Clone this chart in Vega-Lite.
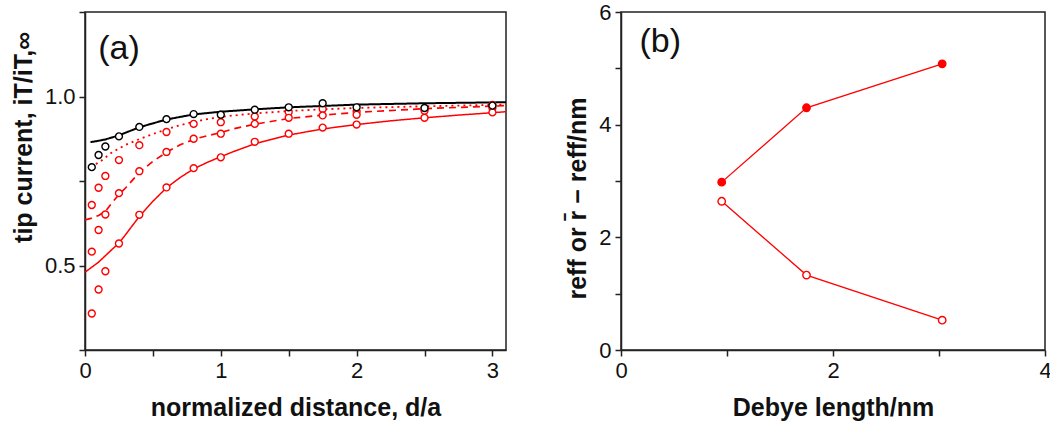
{
  "$schema": "https://vega.github.io/schema/vega-lite/v6.json",
  "autosize": {"type": "pad"},
  "padding": {"left": 10, "top": 0, "right": 0, "bottom": 0},
  "background": "white",
  "bounds": "flush",
  "spacing": 115,
  "datasets": {
    "curves": [
      {"x": 0.04, "y": 0.865, "series": "black solid"},
      {"x": 0.1, "y": 0.869, "series": "black solid"},
      {"x": 0.15, "y": 0.873, "series": "black solid"},
      {"x": 0.25, "y": 0.885, "series": "black solid"},
      {"x": 0.4, "y": 0.909, "series": "black solid"},
      {"x": 0.6, "y": 0.932, "series": "black solid"},
      {"x": 0.8, "y": 0.947, "series": "black solid"},
      {"x": 1.0, "y": 0.955, "series": "black solid"},
      {"x": 1.25, "y": 0.962, "series": "black solid"},
      {"x": 1.5, "y": 0.968, "series": "black solid"},
      {"x": 1.75, "y": 0.972, "series": "black solid"},
      {"x": 2.0, "y": 0.976, "series": "black solid"},
      {"x": 2.5, "y": 0.98, "series": "black solid"},
      {"x": 3.1, "y": 0.983, "series": "black solid"},
      {"x": 0.08, "y": 0.8, "series": "red dotted"},
      {"x": 0.12, "y": 0.81, "series": "red dotted"},
      {"x": 0.2, "y": 0.835, "series": "red dotted"},
      {"x": 0.3, "y": 0.857, "series": "red dotted"},
      {"x": 0.4, "y": 0.874, "series": "red dotted"},
      {"x": 0.5, "y": 0.889, "series": "red dotted"},
      {"x": 0.6, "y": 0.903, "series": "red dotted"},
      {"x": 0.7, "y": 0.915, "series": "red dotted"},
      {"x": 0.8, "y": 0.925, "series": "red dotted"},
      {"x": 0.9, "y": 0.933, "series": "red dotted"},
      {"x": 1.0, "y": 0.94, "series": "red dotted"},
      {"x": 1.25, "y": 0.95, "series": "red dotted"},
      {"x": 1.5, "y": 0.957, "series": "red dotted"},
      {"x": 1.75, "y": 0.962, "series": "red dotted"},
      {"x": 2.0, "y": 0.966, "series": "red dotted"},
      {"x": 2.5, "y": 0.971, "series": "red dotted"},
      {"x": 3.1, "y": 0.976, "series": "red dotted"},
      {"x": 0.0, "y": 0.635, "series": "red dashed"},
      {"x": 0.05, "y": 0.64, "series": "red dashed"},
      {"x": 0.1, "y": 0.648, "series": "red dashed"},
      {"x": 0.15, "y": 0.66, "series": "red dashed"},
      {"x": 0.2, "y": 0.686, "series": "red dashed"},
      {"x": 0.25, "y": 0.71, "series": "red dashed"},
      {"x": 0.3, "y": 0.73, "series": "red dashed"},
      {"x": 0.4, "y": 0.775, "series": "red dashed"},
      {"x": 0.5, "y": 0.808, "series": "red dashed"},
      {"x": 0.6, "y": 0.835, "series": "red dashed"},
      {"x": 0.7, "y": 0.857, "series": "red dashed"},
      {"x": 0.8, "y": 0.873, "series": "red dashed"},
      {"x": 0.9, "y": 0.884, "series": "red dashed"},
      {"x": 1.0, "y": 0.893, "series": "red dashed"},
      {"x": 1.1, "y": 0.905, "series": "red dashed"},
      {"x": 1.25, "y": 0.918, "series": "red dashed"},
      {"x": 1.5, "y": 0.935, "series": "red dashed"},
      {"x": 1.75, "y": 0.945, "series": "red dashed"},
      {"x": 2.0, "y": 0.953, "series": "red dashed"},
      {"x": 2.5, "y": 0.964, "series": "red dashed"},
      {"x": 3.1, "y": 0.973, "series": "red dashed"},
      {"x": 0.0, "y": 0.48, "series": "red solid"},
      {"x": 0.05, "y": 0.495, "series": "red solid"},
      {"x": 0.1, "y": 0.51, "series": "red solid"},
      {"x": 0.15, "y": 0.529, "series": "red solid"},
      {"x": 0.2, "y": 0.548, "series": "red solid"},
      {"x": 0.25, "y": 0.566, "series": "red solid"},
      {"x": 0.3, "y": 0.592, "series": "red solid"},
      {"x": 0.4, "y": 0.645, "series": "red solid"},
      {"x": 0.5, "y": 0.69, "series": "red solid"},
      {"x": 0.6, "y": 0.73, "series": "red solid"},
      {"x": 0.7, "y": 0.76, "series": "red solid"},
      {"x": 0.8, "y": 0.786, "series": "red solid"},
      {"x": 0.9, "y": 0.805, "series": "red solid"},
      {"x": 1.0, "y": 0.822, "series": "red solid"},
      {"x": 1.1, "y": 0.838, "series": "red solid"},
      {"x": 1.25, "y": 0.86, "series": "red solid"},
      {"x": 1.5, "y": 0.886, "series": "red solid"},
      {"x": 1.75, "y": 0.904, "series": "red solid"},
      {"x": 2.0, "y": 0.917, "series": "red solid"},
      {"x": 2.25, "y": 0.928, "series": "red solid"},
      {"x": 2.5, "y": 0.937, "series": "red solid"},
      {"x": 2.75, "y": 0.945, "series": "red solid"},
      {"x": 3.0, "y": 0.952, "series": "red solid"},
      {"x": 3.1, "y": 0.955, "series": "red solid"}
    ],
    "points": [
      {"x": 0.05, "y": 0.679, "series": "red 1"},
      {"x": 0.1, "y": 0.73, "series": "red 1"},
      {"x": 0.15, "y": 0.765, "series": "red 1"},
      {"x": 0.25, "y": 0.812, "series": "red 1"},
      {"x": 0.4, "y": 0.856, "series": "red 1"},
      {"x": 0.6, "y": 0.895, "series": "red 1"},
      {"x": 0.8, "y": 0.919, "series": "red 1"},
      {"x": 1.0, "y": 0.924, "series": "red 1"},
      {"x": 1.25, "y": 0.941, "series": "red 1"},
      {"x": 1.5, "y": 0.954, "series": "red 1"},
      {"x": 1.75, "y": 0.963, "series": "red 1"},
      {"x": 2.0, "y": 0.956, "series": "red 1"},
      {"x": 2.5, "y": 0.963, "series": "red 1"},
      {"x": 3.0, "y": 0.975, "series": "red 1"},
      {"x": 0.05, "y": 0.541, "series": "red 2"},
      {"x": 0.1, "y": 0.605, "series": "red 2"},
      {"x": 0.15, "y": 0.651, "series": "red 2"},
      {"x": 0.25, "y": 0.714, "series": "red 2"},
      {"x": 0.4, "y": 0.779, "series": "red 2"},
      {"x": 0.6, "y": 0.836, "series": "red 2"},
      {"x": 0.8, "y": 0.875, "series": "red 2"},
      {"x": 1.0, "y": 0.89, "series": "red 2"},
      {"x": 1.25, "y": 0.919, "series": "red 2"},
      {"x": 1.5, "y": 0.937, "series": "red 2"},
      {"x": 1.75, "y": 0.944, "series": "red 2"},
      {"x": 2.0, "y": 0.946, "series": "red 2"},
      {"x": 2.5, "y": 0.958, "series": "red 2"},
      {"x": 3.0, "y": 0.966, "series": "red 2"},
      {"x": 0.05, "y": 0.358, "series": "red 3"},
      {"x": 0.1, "y": 0.429, "series": "red 3"},
      {"x": 0.15, "y": 0.483, "series": "red 3"},
      {"x": 0.25, "y": 0.565, "series": "red 3"},
      {"x": 0.4, "y": 0.65, "series": "red 3"},
      {"x": 0.6, "y": 0.731, "series": "red 3"},
      {"x": 0.8, "y": 0.788, "series": "red 3"},
      {"x": 1.0, "y": 0.82, "series": "red 3"},
      {"x": 1.25, "y": 0.866, "series": "red 3"},
      {"x": 1.5, "y": 0.89, "series": "red 3"},
      {"x": 1.75, "y": 0.908, "series": "red 3"},
      {"x": 2.0, "y": 0.917, "series": "red 3"},
      {"x": 2.5, "y": 0.937, "series": "red 3"},
      {"x": 3.0, "y": 0.953, "series": "red 3"},
      {"x": 0.05, "y": 0.791, "series": "black"},
      {"x": 0.1, "y": 0.827, "series": "black"},
      {"x": 0.15, "y": 0.852, "series": "black"},
      {"x": 0.25, "y": 0.882, "series": "black"},
      {"x": 0.4, "y": 0.91, "series": "black"},
      {"x": 0.6, "y": 0.933, "series": "black"},
      {"x": 0.8, "y": 0.948, "series": "black"},
      {"x": 1.0, "y": 0.946, "series": "black"},
      {"x": 1.25, "y": 0.961, "series": "black"},
      {"x": 1.5, "y": 0.968, "series": "black"},
      {"x": 1.75, "y": 0.98, "series": "black"},
      {"x": 2.0, "y": 0.968, "series": "black"},
      {"x": 2.5, "y": 0.966, "series": "black"},
      {"x": 3.0, "y": 0.973, "series": "black"}
    ],
    "debye": [
      {"debye": 0.95, "r": 2.98, "quantity": "r_eff"},
      {"debye": 1.75, "r": 4.3, "quantity": "r_eff"},
      {"debye": 3.03, "r": 5.08, "quantity": "r_eff"},
      {"debye": 0.95, "r": 2.64, "quantity": "rbar_minus_r_eff"},
      {"debye": 1.75, "r": 1.33, "quantity": "rbar_minus_r_eff"},
      {"debye": 3.03, "r": 0.53, "quantity": "rbar_minus_r_eff"}
    ],
    "labels": [
      {"panel": "a", "lx": 0.25, "ly": 1.14, "text": "(a)"},
      {"panel": "b", "lx": 0.37, "ly": 5.46, "text": "(b)"}
    ]
  },
  "config": {
    "view": {"stroke": "#222", "strokeWidth": 1.5},
    "axis": {
      "grid": false,
      "domainColor": "#222",
      "domainWidth": 1.5,
      "tickColor": "#222",
      "tickWidth": 1.5,
      "tickSize": 6,
      "labelPadding": 4,
      "labelFont": "Liberation Sans",
      "labelFontSize": 22,
      "labelColor": "#111",
      "labelFlush": false,
      "labelOverlap": false,
      "titleFont": "Liberation Sans",
      "titleFontSize": 25,
      "titleFontWeight": "bold",
      "titleColor": "#111"
    }
  },
  "hconcat": [
    {
      "width": 421,
      "height": 338,
      "layer": [
        {
          "data": {"name": "curves"},
          "mark": {"type": "line", "clip": true},
          "encoding": {
            "x": {"field": "x", "type": "quantitative", "scale": {"domain": [0, 3.1], "nice": false},
              "axis": {"title": "normalized distance, d/a", "titlePadding": 14, "values": [0, 0.5, 1, 1.5, 2, 2.5, 3], "labelExpr": "datum.value % 1 === 0 ? format(datum.value, 'd') : ''"}},
            "y": {"field": "y", "type": "quantitative", "scale": {"domain": [0.25, 1.25], "nice": false, "zero": false},
              "axis": {"title": "tip current, iT/iT,∞", "titlePadding": 8, "titleY": 125, "values": [0.25, 0.5, 0.75, 1.0, 1.25], "labelExpr": "datum.value === 0.5 || datum.value === 1 ? format(datum.value, '.1f') : ''"}},
            "detail": {"field": "series"},
            "color": {"field": "series", "type": "nominal", "legend": null,
              "scale": {"domain": ["black solid", "red dotted", "red dashed", "red solid"], "range": ["#000000", "#ff0000", "#ff0000", "#ff0000"]}},
            "strokeDash": {"field": "series", "type": "nominal", "legend": null,
              "scale": {"domain": ["black solid", "red dotted", "red dashed", "red solid"], "range": [[1, 0], [2, 4], [7, 5], [1, 0]]}},
            "strokeWidth": {"field": "series", "type": "nominal", "legend": null,
              "scale": {"domain": ["black solid", "red dotted", "red dashed", "red solid"], "range": [2, 1.5, 1.5, 1.5]}}
          }
        },
        {
          "data": {"name": "points"},
          "mark": {"type": "point", "shape": "circle", "filled": true, "fill": "white", "size": 48, "strokeWidth": 1.4, "opacity": 1},
          "encoding": {
            "x": {"field": "x", "type": "quantitative"},
            "y": {"field": "y", "type": "quantitative"},
            "stroke": {"field": "series", "type": "nominal", "legend": null,
              "scale": {"domain": ["red 1", "red 2", "red 3", "black"], "range": ["#ff0000", "#ff0000", "#ff0000", "#000000"]}}
          }
        },
        {
          "data": {"name": "labels"},
          "transform": [{"filter": "datum.panel === 'a'"}],
          "mark": {"type": "text", "font": "Liberation Sans", "fontSize": 34, "align": "center", "baseline": "middle", "color": "#111"},
          "encoding": {
            "x": {"field": "lx", "type": "quantitative"},
            "y": {"field": "ly", "type": "quantitative"},
            "text": {"field": "text"}
          }
        }
      ]
    },
    {
      "width": 424,
      "height": 338,
      "layer": [
        {
          "data": {"name": "debye"},
          "mark": {"type": "line", "color": "#ff0000", "strokeWidth": 1.3},
          "encoding": {
            "x": {"field": "debye", "type": "quantitative", "scale": {"domain": [0, 4], "nice": false},
              "axis": {"title": "Debye length/nm", "titlePadding": 14, "values": [0, 1, 2, 3, 4], "labelExpr": "datum.value % 2 === 0 ? format(datum.value, 'd') : ''"}},
            "y": {"field": "r", "type": "quantitative", "scale": {"domain": [0, 6], "nice": false},
              "axis": {"title": "reff or r̄ − reff/nm", "titlePadding": 8, "titleY": 186, "values": [0, 1, 2, 3, 4, 5, 6], "labelExpr": "datum.value % 2 === 0 ? format(datum.value, 'd') : ''"}},
            "detail": {"field": "quantity"}
          }
        },
        {
          "data": {"name": "debye"},
          "mark": {"type": "point", "shape": "circle", "size": 55, "strokeWidth": 1.4, "stroke": "#ff0000", "filled": true, "opacity": 1},
          "encoding": {
            "x": {"field": "debye", "type": "quantitative"},
            "y": {"field": "r", "type": "quantitative"},
            "fill": {"field": "quantity", "type": "nominal", "legend": null,
              "scale": {"domain": ["r_eff", "rbar_minus_r_eff"], "range": ["#ff0000", "#ffffff"]}}
          }
        },
        {
          "data": {"name": "labels"},
          "transform": [{"filter": "datum.panel === 'b'"}],
          "mark": {"type": "text", "font": "Liberation Sans", "fontSize": 34, "align": "center", "baseline": "middle", "color": "#111"},
          "encoding": {
            "x": {"field": "lx", "type": "quantitative"},
            "y": {"field": "ly", "type": "quantitative"},
            "text": {"field": "text"}
          }
        }
      ]
    }
  ]
}
